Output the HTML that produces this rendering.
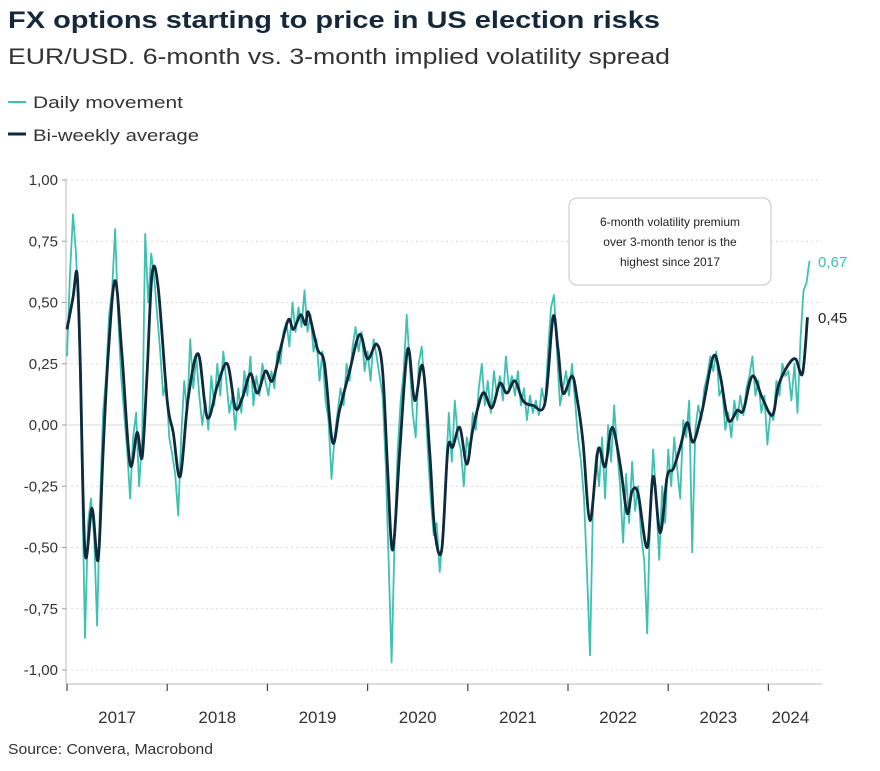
<!DOCTYPE html>
<html><head><meta charset="utf-8"><style>
body{margin:0;background:#fff;font-family:"Liberation Sans",sans-serif;}
svg text{font-family:"Liberation Sans",sans-serif;}
</style></head><body>
<svg id="chart" width="880" height="766" viewBox="0 0 880 766">
<text x="8" y="28" font-size="24" font-weight="bold" fill="#14283a" textLength="652" lengthAdjust="spacingAndGlyphs">FX options starting to price in US election risks</text>
<text x="8" y="64" font-size="22" fill="#333" textLength="662" lengthAdjust="spacingAndGlyphs">EUR/USD. 6-month vs. 3-month implied volatility spread</text>
<g><line x1="8" y1="102" x2="26" y2="102" stroke="#3ec1b1" stroke-width="2"/><text x="33" y="108" font-size="17" fill="#333" textLength="150" lengthAdjust="spacingAndGlyphs">Daily movement</text></g>
<g><line x1="8" y1="134" x2="26" y2="134" stroke="#0f2a3d" stroke-width="3"/><text x="33" y="141" font-size="17" fill="#333" textLength="166" lengthAdjust="spacingAndGlyphs">Bi-weekly average</text></g>
<g id="grid"></g><g id="axes"></g><g id="series"></g>
<g>
<rect x="569" y="198" width="202" height="87" rx="8" fill="#fff" stroke="#c4c4c4"/>
<text x="670" y="226" font-size="12" fill="#222" text-anchor="middle">6-month volatility premium</text>
<text x="670" y="246" font-size="12" fill="#222" text-anchor="middle">over 3-month tenor is the</text>
<text x="670" y="266" font-size="12" fill="#222" text-anchor="middle">highest since 2017</text>
</g>
<text x="8" y="754" font-size="15" fill="#333" textLength="205" lengthAdjust="spacingAndGlyphs">Source: Convera, Macrobond</text>
</svg>
<script>
const yTicks=[1,0.75,0.5,0.25,0,-0.25,-0.5,-0.75,-1];
const yTickLabels=["1,00","0,75","0,50","0,25","0,00","-0,25","-0,50","-0,75","-1,00"];
const years=[2017,2018,2019,2020,2021,2022,2023,2024];
const yearLabels=["2017","2018","2019","2020","2021","2022","2023","2024"];
const avgDates=[2017.00,2017.06,2017.10,2017.13,2017.18,2017.25,2017.31,2017.36,2017.41,2017.48,2017.55,2017.63,2017.70,2017.75,2017.80,2017.85,2017.91,2018.00,2018.06,2018.13,2018.21,2018.31,2018.40,2018.50,2018.60,2018.68,2018.75,2018.83,2018.90,2018.98,2019.05,2019.13,2019.21,2019.26,2019.33,2019.38,2019.41,2019.50,2019.57,2019.65,2019.72,2019.82,2019.92,2020.00,2020.09,2020.15,2020.20,2020.25,2020.32,2020.40,2020.47,2020.55,2020.62,2020.67,2020.74,2020.80,2020.85,2020.92,2020.99,2021.05,2021.15,2021.24,2021.32,2021.39,2021.47,2021.55,2021.65,2021.77,2021.85,2021.90,2021.95,2022.04,2022.09,2022.15,2022.22,2022.30,2022.37,2022.44,2022.52,2022.59,2022.64,2022.70,2022.79,2022.85,2022.92,2022.99,2023.05,2023.12,2023.19,2023.25,2023.34,2023.45,2023.52,2023.60,2023.69,2023.75,2023.84,2023.94,2024.04,2024.10,2024.19,2024.27,2024.34,2024.39];
const avgValues=[0.39,0.52,0.62,0.29,-0.52,-0.34,-0.55,-0.11,0.28,0.59,0.28,-0.16,-0.03,-0.13,0.22,0.62,0.56,0.10,-0.03,-0.21,0.11,0.29,0.03,0.16,0.25,0.07,0.11,0.21,0.13,0.22,0.18,0.31,0.43,0.39,0.45,0.41,0.46,0.31,0.25,-0.07,0.06,0.22,0.37,0.27,0.33,0.22,-0.18,-0.51,-0.11,0.31,0.10,0.24,-0.11,-0.43,-0.51,-0.10,-0.09,-0.01,-0.16,-0.02,0.13,0.07,0.17,0.13,0.18,0.10,0.08,0.09,0.44,0.31,0.13,0.20,0.11,-0.07,-0.39,-0.10,-0.17,-0.01,-0.16,-0.36,-0.27,-0.28,-0.50,-0.21,-0.44,-0.21,-0.18,-0.09,0.01,-0.07,0.06,0.28,0.20,0.02,0.06,0.06,0.20,0.11,0.04,0.16,0.24,0.27,0.21,0.44];
const dailyStart=2017.00;
const dailyStep=0.03;
const dailyValues=[0.28,0.62,0.86,0.70,0.40,-0.20,-0.87,-0.40,-0.30,-0.45,-0.82,-0.30,0.05,0.20,0.45,0.55,0.80,0.45,0.20,0.05,-0.10,-0.30,-0.05,0.05,-0.25,-0.05,0.78,0.50,0.70,0.60,0.45,0.30,0.12,0.18,-0.05,-0.12,-0.20,-0.37,-0.05,0.18,0.05,0.35,0.15,0.28,0.12,0.00,0.10,-0.02,0.20,0.08,0.25,0.12,0.30,0.18,0.05,0.12,-0.02,0.15,0.05,0.22,0.12,0.28,0.08,0.20,0.12,0.25,0.18,0.12,0.22,0.15,0.30,0.25,0.38,0.42,0.32,0.50,0.38,0.48,0.40,0.55,0.38,0.45,0.30,0.35,0.18,0.30,0.10,0.02,-0.22,-0.05,0.05,0.15,0.08,0.25,0.18,0.32,0.40,0.30,0.38,0.22,0.30,0.18,0.35,0.28,0.20,0.12,-0.15,-0.55,-0.97,-0.45,-0.10,0.10,0.22,0.45,0.25,0.05,-0.05,0.25,0.32,0.15,-0.10,-0.30,-0.45,-0.40,-0.60,-0.45,-0.20,0.05,-0.15,0.10,-0.05,-0.10,-0.25,-0.05,-0.12,0.05,-0.02,0.15,0.25,0.08,0.18,0.05,0.22,0.12,0.20,0.10,0.28,0.15,0.20,0.12,0.22,0.08,0.15,0.02,0.12,0.05,0.10,0.04,0.15,0.08,0.30,0.48,0.53,0.30,0.08,0.15,0.22,0.12,0.25,0.10,-0.05,-0.15,-0.30,-0.60,-0.94,-0.30,-0.12,-0.25,-0.05,-0.30,0.00,-0.15,0.08,-0.10,-0.25,-0.48,-0.20,-0.40,-0.15,-0.35,-0.25,-0.45,-0.55,-0.85,-0.35,-0.10,-0.30,-0.55,-0.25,-0.40,-0.10,-0.25,-0.05,-0.18,-0.30,0.02,-0.05,0.10,-0.52,-0.02,0.08,0.02,0.15,0.20,0.28,0.22,0.30,0.12,0.15,-0.02,0.05,-0.05,0.10,0.02,0.12,0.04,0.15,0.20,0.28,0.12,0.18,0.05,0.12,-0.08,0.05,0.02,0.18,0.12,0.25,0.20,0.22,0.10,0.25,0.05,0.35,0.55,0.58,0.67];
const lastDailyLabel="0,67";
const lastAvgLabel="0,45";

const NS="http://www.w3.org/2000/svg";
const X0=67,YEARW=100.2,Y0=425,UNIT=245;
function xs(t){return X0+(t-2017)*YEARW;}
function ys(v){return Y0-v*UNIT;}
function mk(tag,attrs,parent){const e=document.createElementNS(NS,tag);for(const k in attrs)e.setAttribute(k,attrs[k]);parent.appendChild(e);return e;}
function smooth(pts){let d='M'+pts[0][0].toFixed(1)+','+pts[0][1].toFixed(1);
  for(let i=0;i<pts.length-1;i++){const p0=pts[Math.max(0,i-1)],p1=pts[i],p2=pts[i+1],p3=pts[Math.min(pts.length-1,i+2)];
    const c1x=p1[0]+(p2[0]-p0[0])/6,c1y=p1[1]+(p2[1]-p0[1])/6,c2x=p2[0]-(p3[0]-p1[0])/6,c2y=p2[1]-(p3[1]-p1[1])/6;
    d+=' C'+c1x.toFixed(1)+','+c1y.toFixed(1)+' '+c2x.toFixed(1)+','+c2y.toFixed(1)+' '+p2[0].toFixed(1)+','+p2[1].toFixed(1);}
  return d;}
const grid=document.getElementById('grid'),axes=document.getElementById('axes'),series=document.getElementById('series');
yTicks.forEach((v,i)=>{
  const l=mk('line',{x1:66,x2:822,y1:ys(v),y2:ys(v),stroke:v===0?'#d8d8d8':'#dcdcdc','stroke-width':1,'stroke-dasharray':v===0?'':'2,3'},grid);
  
  
  const t=mk('text',{x:58,y:ys(v)+5,'font-size':15,fill:'#333','text-anchor':'end'},axes);
  t.textContent=yTickLabels[i];
  
  
  mk('line',{x1:62,x2:66,y1:ys(v),y2:ys(v),stroke:'#999'},axes);
});
const ya=mk('line',{x1:66,x2:66,y1:178,y2:684,stroke:'#bbb'},axes);


const xa=mk('line',{x1:66,x2:822,y1:684,y2:684,stroke:'#bbb'},axes);


years.forEach((yr,i)=>{
  mk('line',{x1:xs(yr),x2:xs(yr),y1:684,y2:691,stroke:'#444','stroke-width':1.2},axes);
  const mid=i<years.length-1?(xs(yr)+xs(years[i+1]))/2:xs(yr)+22;
  const t=mk('text',{x:mid,y:723,'font-size':17,fill:'#333','text-anchor':'middle'},axes);
  t.textContent=yearLabels[i];
  
  
});
let dd=dailyValues.map((v,i)=>xs(dailyStart+i*dailyStep).toFixed(1)+','+ys(v).toFixed(1)).join(' ');
const dl=mk('polyline',{points:dd,fill:'none',stroke:'#3ec1b1','stroke-width':1.8,'stroke-linejoin':'round'},series);


const apts=avgValues.map((v,i)=>[xs(avgDates[i]),ys(v)]);
const al=mk('path',{d:smooth(apts),fill:'none',stroke:'#0f2a3d','stroke-width':2.8,'stroke-linejoin':'round'},series);


const l1=mk('text',{x:818,y:ys(dailyValues[dailyValues.length-1])+6,'font-size':15,fill:'#3ec1b1'},series);
l1.textContent=lastDailyLabel;


const l2=mk('text',{x:818,y:ys(avgValues[avgValues.length-1])+6,'font-size':15,fill:'#222'},series);
l2.textContent=lastAvgLabel;


</script>
</body></html>
